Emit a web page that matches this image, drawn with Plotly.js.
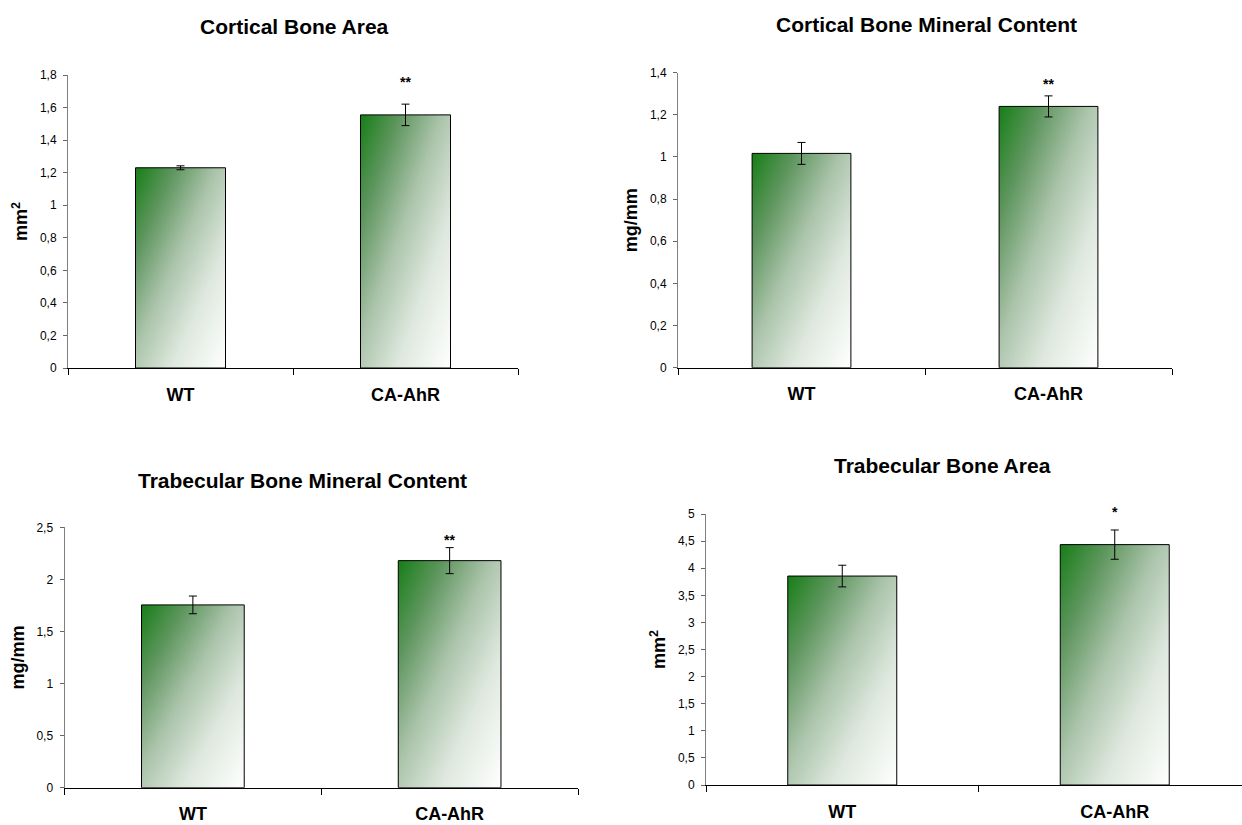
<!DOCTYPE html>
<html>
<head>
<meta charset="utf-8">
<script src="https://cdn.plot.ly/plotly-3.0.1.min.js"></script>
<style>
  html, body { margin: 0; padding: 0; background: #fff; }
  #chart { width: 1242px; height: 825px; }
</style>
</head>
<body>
<div id="chart"></div>
<script>
// ---- data ----
const categories = ['WT', 'CA-AhR'];

const corticalAreaTitle = 'Cortical Bone Area';
const corticalAreaUnit = 'mm<sup>2</sup>';
const corticalAreaMean = [1.23, 1.555];
const corticalAreaErr = [0.012, 0.066];
const corticalAreaSig = ['', '**'];

const corticalBmcTitle = 'Cortical Bone Mineral Content';
const corticalBmcUnit = 'mg/mm';
const corticalBmcMean = [1.017, 1.240];
const corticalBmcErr = [0.052, 0.050];
const corticalBmcSig = ['', '**'];

const trabBmcTitle = 'Trabecular Bone Mineral Content';
const trabBmcUnit = 'mg/mm';
const trabBmcMean = [1.755, 2.18];
const trabBmcErr = [0.085, 0.125];
const trabBmcSig = ['', '**'];

const trabAreaTitle = 'Trabecular Bone Area';
const trabAreaUnit = 'mm<sup>2</sup>';
const trabAreaMean = [3.855, 4.435];
const trabAreaErr = [0.20, 0.27];
const trabAreaSig = ['', '*'];

// ---- style ----
const FONT = 'Liberation Sans, Arial, sans-serif';
const gradientStops = [
  [0, 'rgb(22,126,22)'],
  [0.22, 'rgb(95,150,95)'],
  [0.45, 'rgb(170,195,170)'],
  [0.7, 'rgb(222,232,222)'],
  [1, 'rgb(255,255,255)']
];

const panels = [
  { title: corticalAreaTitle, unit: corticalAreaUnit, mean: corticalAreaMean, err: corticalAreaErr, sig: corticalAreaSig,
    yrange: [0, 1.8], dtick: 0.2, xdom: [68/1242, 518/1242], ydom: [457/825, 750/825], xr: [-0.5, 1.5],
    tpos: [294.5, 26.7], sigShift: 12 },
  { title: corticalBmcTitle, unit: corticalBmcUnit, mean: corticalBmcMean, err: corticalBmcErr, sig: corticalBmcSig,
    yrange: [0, 1.4], dtick: 0.2, xdom: [678/1242, 1172/1242], ydom: [457.3/825, 752.3/825], xr: [-0.5, 1.5],
    tpos: [926, 25], sigShift: 2 },
  { title: trabBmcTitle, unit: trabBmcUnit, mean: trabBmcMean, err: trabBmcErr, sig: trabBmcSig,
    yrange: [0, 2.5], dtick: 0.5, xdom: [64.5/1242, 578/1242], ydom: [37.3/825, 297.7/825], xr: [-0.5, 1.5],
    tpos: [302, 480], sigShift: -2 },
  { title: trabAreaTitle, unit: trabAreaUnit, mean: trabAreaMean, err: trabAreaErr, sig: trabAreaSig,
    yrange: [0, 5], dtick: 0.5, xdom: [706/1242, 1], ydom: [40/825, 311/825], xr: [-0.5, 1.467],
    tpos: [942, 465], sigShift: 8 }
];

const data = [];
const annotations = [];
const layout = {
  width: 1242, height: 825,
  margin: { l: 0, r: 0, t: 0, b: 0 },
  paper_bgcolor: '#fff', plot_bgcolor: '#fff',
  showlegend: false,
  separators: ', ',
  font: { family: FONT, color: '#000' },
  annotations: annotations
};

panels.forEach((p, i) => {
  const n = i + 1;
  const xa = 'x' + (n === 1 ? '' : n);
  const ya = 'y' + (n === 1 ? '' : n);
  data.push({
    type: 'bar',
    x: categories,
    y: p.mean,
    xaxis: xa, yaxis: ya,
    width: 0.4,
    marker: { color: 'rgb(120,170,120)', line: { color: '#000', width: 1 } },
    error_y: { type: 'data', array: p.err, visible: true, color: '#000', thickness: 1, width: 4 },
    hoverinfo: 'x+y'
  });
  layout['xaxis' + (n === 1 ? '' : n)] = {
    domain: p.xdom, anchor: ya, type: 'category', range: p.xr,
    tickson: 'boundaries', ticks: 'outside', ticklen: 6, tickcolor: '#000', tickwidth: 1,
    showline: true, linecolor: '#000', linewidth: 1,
    showgrid: false, zeroline: false, fixedrange: true,
    tickfont: { family: FONT, size: 18, weight: 'bold', color: '#000' },
    ticklabelstandoff: 10
  };
  layout['yaxis' + (n === 1 ? '' : n)] = {
    domain: p.ydom, anchor: xa, range: p.yrange, dtick: p.dtick, tick0: 0,
    ticks: 'outside', ticklen: 4, tickcolor: '#666', tickwidth: 1,
    showline: true, linecolor: '#808080', linewidth: 1,
    showgrid: false, zeroline: false, fixedrange: true,
    tickfont: { family: FONT, size: 12, color: '#000' },
    ticklabelstandoff: 4,
    title: { text: p.unit, font: { family: FONT, size: 18, weight: 'bold', color: '#000' }, standoff: 7 }
  };
  annotations.push({
    xref: 'paper', yref: 'paper', x: p.tpos[0] / 1242, y: 1 - p.tpos[1] / 825,
    xanchor: 'center', yanchor: 'middle', showarrow: false,
    text: p.title, font: { family: FONT, size: 21, weight: 'bold', color: '#000' }
  });
  categories.forEach((c, k) => {
    if (p.sig[k]) {
      annotations.push({
        xref: xa, yref: ya, x: c, y: p.mean[k] + p.err[k],
        xanchor: 'center', yanchor: 'bottom', yshift: p.sigShift, showarrow: false,
        text: p.sig[k], font: { family: FONT, size: 14, weight: 'bold', color: '#000' }
      });
    }
  });
});

const gd = document.getElementById('chart');

function applyGradient() {
  const svg = gd.querySelector('svg.main-svg');
  if (!svg) return;
  const ns = 'http://www.w3.org/2000/svg';
  let defs = svg.querySelector('defs');
  if (!defs) { defs = document.createElementNS(ns, 'defs'); svg.insertBefore(defs, svg.firstChild); }
  if (!document.getElementById('barGradient')) {
    const lg = document.createElementNS(ns, 'linearGradient');
    lg.setAttribute('id', 'barGradient');
    lg.setAttribute('x1', '0'); lg.setAttribute('y1', '0');
    lg.setAttribute('x2', '1'); lg.setAttribute('y2', '1');
    gradientStops.forEach(s => {
      const st = document.createElementNS(ns, 'stop');
      st.setAttribute('offset', s[0]);
      st.setAttribute('stop-color', s[1]);
      lg.appendChild(st);
    });
    defs.appendChild(lg);
  }
  gd.querySelectorAll('.barlayer .point path').forEach(path => {
    path.style.fill = 'url(#barGradient)';
  });
}

Plotly.newPlot(gd, data, layout, { displayModeBar: false, staticPlot: true }).then(() => {
  applyGradient();
  gd.on && gd.on('plotly_afterplot', applyGradient);
});
</script>
</body>
</html>
